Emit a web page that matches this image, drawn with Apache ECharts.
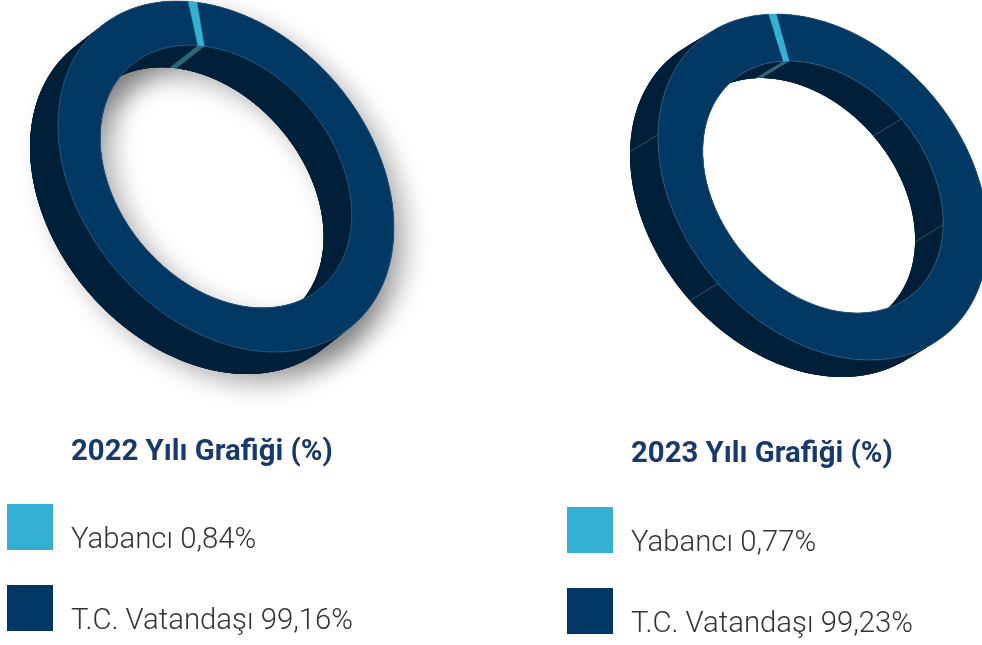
<!DOCTYPE html>
<html>
<head>
<meta charset="utf-8">
<style>html,body{margin:0;padding:0;background:#fff}#chart{width:982px;height:645px}</style>
<script src="https://cdn.jsdelivr.net/npm/echarts@6/dist/echarts.min.js"></script>
</head>
<body>
<div id="chart"></div>
<script>
const years = ['2022', '2023'];
const chartTitles = ['2022 Yılı Grafiği (%)', '2023 Yılı Grafiği (%)'];
const categories = ['Yabancı', 'T.C. Vatandaşı'];
const foreignShare = [0.84, 0.77];
const citizenShare = [99.16, 99.23];
const shareLabels = [['0,84%', '99,16%'], ['0,77%', '99,23%']];

const topColors = ['#33b0d2', '#023864'];
const wallColors = ['#2a6877', '#001f38'];

// Projection of each tilted ring (style only)
const rings = [
  { cx: 226, cy: 176.5, W: 168, H: 175.5, hole: 0.748, skew: -0.296, dx: -28, dy: 22, mid: 0.096, shadow: true, seams: [] },
  { cx: 823, cy: 187, W: 165, H: 173, hole: 0.728, skew: -0.289, dx: -28, dy: 17, mid: -0.022, shadow: false, seams: [1.0, 1.876, 4.12, 5.02] }
];
const boxes = [
  { x: 7, titleX: 71, titleY: 438, y1: 504, y2: 585 },
  { x: 567, titleX: 631, titleY: 440, y1: 507, y2: 588 }
];

function pt(g, r, a, ox, oy) {
  return [g.cx + g.W * r * Math.sin(a + g.skew) + (ox || 0), g.cy - g.H * r * Math.cos(a) + (oy || 0)];
}
function arc(g, r, a0, a1, ox, oy) {
  const n = Math.max(2, Math.ceil(Math.abs(a1 - a0) / 0.02));
  const out = [];
  for (let i = 0; i <= n; i++) out.push(pt(g, r, a0 + (a1 - a0) * i / n, ox, oy));
  return out;
}
function band(g, a0, a1, ox, oy) {
  return arc(g, 1, a0, a1, ox, oy).concat(arc(g, g.hole, a1, a0, ox, oy));
}
function makeRender(ringIdx, catIdx) {
  const g = rings[ringIdx];
  return function (params, api) {
    const value = api.value(0);
    const shares = [foreignShare[ringIdx], citizenShare[ringIdx]];
    const start = g.mid - shares[0] / 200 * 2 * Math.PI;
    const a0 = start + (catIdx === 0 ? 0 : shares[0] / 100 * 2 * Math.PI);
    const a1 = a0 + value / 100 * 2 * Math.PI;
    const wall = wallColors[catIdx];
    const top = topColors[catIdx];
    const kids = [];
    if (g.shadow && catIdx === 1) {
      [[0, 0], [g.dx, g.dy]].forEach(function (o) {
        kids.push({
          type: 'polygon', z2: 0, silent: true,
          shape: { points: band(g, 0, 2 * Math.PI, o[0], o[1]) },
          style: { fill: wall, shadowBlur: 24, shadowColor: 'rgba(0,0,0,0.3)', shadowOffsetX: 13, shadowOffsetY: 11 }
        });
      });
    }
    [1, g.hole].forEach(function (r) {
      const e = arc(g, r, a0, a1);
      for (let i = 0; i < e.length - 1; i++) {
        const q = e[Math.min(i + 3, e.length - 1)];
        kids.push({
          type: 'polygon', z2: catIdx === 1 ? 1 : 1.5, silent: true,
          shape: { points: [e[i], q, [q[0] + g.dx, q[1] + g.dy], [e[i][0] + g.dx, e[i][1] + g.dy]] },
          style: { fill: wall }
        });
      }
    });
    if (catIdx === 1) {
      g.seams.forEach(function (a) {
        [1, g.hole].forEach(function (r) {
          const p = pt(g, r, a);
          kids.push({
            type: 'line', z2: 1.7, silent: true,
            shape: { x1: p[0], y1: p[1], x2: p[0] + g.dx, y2: p[1] + g.dy },
            style: { stroke: 'rgba(150,175,195,0.5)', lineWidth: 0.7 }
          });
        });
      });
    }
    kids.push({
      type: 'polygon', z2: catIdx === 1 ? 2 : 2.5, silent: true,
      shape: { points: band(g, a0, a1) },
      style: { fill: top, stroke: top, lineWidth: 0.4 }
    });
    if (catIdx === 1) {
      [1, g.hole].forEach(function (r) {
        kids.push({
          type: 'polyline', z2: 3, silent: true,
          shape: { points: arc(g, r, a0, a1) },
          style: { fill: null, stroke: 'rgba(190,210,225,0.4)', lineWidth: 0.6 }
        });
      });
    }
    return { type: 'group', children: kids };
  };
}

const series = [], legends = [], titles = [];
years.forEach(function (y, i) {
  titles.push({
    text: chartTitles[i], left: boxes[i].titleX, top: boxes[i].titleY, padding: 0,
    textStyle: { fontFamily: 'Roboto', fontSize: 29.33, fontWeight: 700, color: '#17396b' }
  });
  const shares = [foreignShare[i], citizenShare[i]];
  categories.forEach(function (c, k) {
    const name = c + ' ' + shareLabels[i][k];
    series.push({
      type: 'custom', name: name, coordinateSystem: 'none', silent: true, animation: false,
      itemStyle: { color: k === 0 ? topColors[0] : '#003764' },
      data: [shares[k]],
      renderItem: makeRender(i, k)
    });
    legends.push({
      data: [name], left: boxes[i].x, top: k === 0 ? boxes[i].y1 : boxes[i].y2,
      orient: 'vertical', padding: 0, itemWidth: 46, itemHeight: 46, icon: 'rect',
      selectedMode: false,
      formatter: '{t|{name}}',
      textStyle: {
        rich: { t: { fontFamily: 'Roboto', fontSize: 29.33, fontWeight: 300, color: '#333333', padding: [28, 0, 0, 13] } }
      }
    });
  });
});

const chart = echarts.init(document.getElementById('chart'), null, { renderer: 'canvas' });
chart.setOption({ backgroundColor: '#ffffff', animation: false, title: titles, legend: legends, series: series });
</script>
</body>
</html>
